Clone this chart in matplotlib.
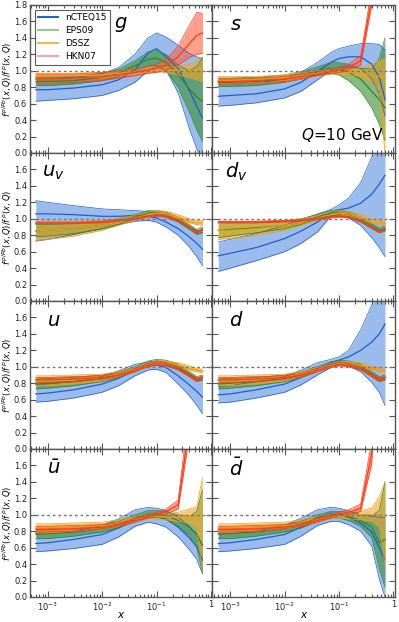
import numpy as np
import matplotlib
matplotlib.use("Agg")
import matplotlib.pyplot as plt
from matplotlib.ticker import FixedLocator, FixedFormatter, LogLocator, NullFormatter
from matplotlib.lines import Line2D

# ---------------- data ----------------
x_grid = [6e-4, 1e-3, 3e-3, 1e-2, 2e-2, 4e-2, 7e-2, 0.1, 0.15, 0.25, 0.4, 0.55, 0.7]

sets = ["nCTEQ15", "EPS09", "DSSZ", "HKN07"]
panel_labels = [r"$g$", r"$s$", r"$u_v$", r"$d_v$", r"$u$", r"$d$", r"$\bar{u}$", r"$\bar{d}$"]

# g
g_nCTEQ15    = [0.77,0.77,0.79,0.83,0.89,1.01,1.22,1.27,1.17,1.03,0.76,0.57,0.42]
g_nCTEQ15_lo = [0.63,0.64,0.66,0.70,0.76,0.86,1.00,1.05,1.01,0.73,0.30,0.05,-0.12]
g_nCTEQ15_hi = [0.91,0.91,0.92,0.96,1.04,1.20,1.40,1.46,1.41,1.31,1.21,1.17,1.15]
g_EPS09      = [0.87,0.87,0.88,0.92,0.97,1.06,1.14,1.15,1.10,0.95,0.78,0.68,0.63]
g_EPS09_lo   = [0.82,0.82,0.84,0.88,0.93,1.00,1.06,1.06,1.00,0.80,0.50,0.28,0.14]
g_EPS09_hi   = [0.92,0.92,0.93,0.97,1.02,1.12,1.23,1.25,1.20,1.07,1.00,1.05,1.16]
g_DSSZ       = [0.93,0.93,0.94,0.95,0.97,0.99,1.00,1.01,1.01,1.00,1.00,1.01,1.02]
g_DSSZ_lo    = [0.90,0.90,0.91,0.92,0.94,0.96,0.98,0.99,0.98,0.95,0.92,0.89,0.87]
g_DSSZ_hi    = [0.97,0.97,0.97,0.98,1.00,1.02,1.03,1.04,1.04,1.05,1.08,1.12,1.17]
g_HKN07      = [0.90,0.90,0.91,0.93,0.95,0.98,1.01,1.03,1.07,1.17,1.33,1.43,1.46]
g_HKN07_lo   = [0.85,0.85,0.86,0.88,0.91,0.94,0.97,0.98,1.01,1.07,1.16,1.20,1.21]
g_HKN07_hi   = [0.96,0.96,0.96,0.98,1.00,1.02,1.05,1.08,1.14,1.30,1.55,1.71,1.70]

# s
s_nCTEQ15    = [0.69,0.70,0.72,0.78,0.86,0.99,1.10,1.15,1.17,1.17,1.08,0.92,0.65]
s_nCTEQ15_lo = [0.57,0.58,0.61,0.67,0.75,0.89,1.00,1.04,1.05,1.03,0.90,0.72,0.45]
s_nCTEQ15_hi = [0.83,0.83,0.85,0.90,0.98,1.10,1.22,1.27,1.30,1.33,1.33,1.32,1.25]
s_EPS09      = [0.86,0.86,0.87,0.90,0.94,1.00,1.03,1.02,0.98,0.90,0.75,0.65,0.55]
s_EPS09_lo   = [0.81,0.81,0.82,0.86,0.90,0.95,0.97,0.95,0.88,0.75,0.55,0.35,0.15]
s_EPS09_hi   = [0.91,0.91,0.92,0.95,0.99,1.05,1.10,1.10,1.08,1.03,1.02,1.15,1.40]
s_DSSZ       = [0.88,0.88,0.89,0.91,0.94,0.97,0.99,0.99,0.98,0.97,0.95,0.93,0.90]
s_DSSZ_lo    = [0.84,0.84,0.85,0.87,0.90,0.94,0.96,0.96,0.95,0.93,0.86,0.75,0.00]
s_DSSZ_hi    = [0.93,0.93,0.93,0.95,0.97,1.00,1.02,1.02,1.02,1.04,1.08,1.12,1.15]
s_HKN07      = [0.87,0.87,0.88,0.90,0.93,0.96,0.99,1.01,1.04,1.12,1.90,4.00,6.00]
s_HKN07_lo   = [0.84,0.84,0.85,0.87,0.90,0.94,0.97,0.98,1.01,1.07,1.80,3.70,5.50]
s_HKN07_hi   = [0.90,0.90,0.91,0.93,0.96,0.99,1.02,1.04,1.08,1.18,2.00,4.30,6.50]

# u_v
uv_nCTEQ15    = [1.06,1.06,1.05,1.03,1.03,1.04,1.03,1.01,0.96,0.88,0.78,0.70,0.63]
uv_nCTEQ15_lo = [0.73,0.75,0.81,0.88,0.93,0.97,0.98,0.96,0.90,0.80,0.66,0.54,0.43]
uv_nCTEQ15_hi = [1.22,1.20,1.16,1.12,1.11,1.10,1.09,1.07,1.03,0.97,0.90,0.86,0.83]
uv_EPS09      = [0.85,0.86,0.88,0.92,0.96,1.02,1.07,1.08,1.05,0.99,0.90,0.84,0.87]
uv_EPS09_lo   = [0.78,0.79,0.82,0.88,0.93,1.00,1.04,1.05,1.02,0.96,0.87,0.81,0.83]
uv_EPS09_hi   = [0.93,0.93,0.94,0.97,1.00,1.05,1.10,1.10,1.08,1.02,0.93,0.87,0.90]
uv_DSSZ       = [0.85,0.86,0.88,0.92,0.96,1.01,1.05,1.07,1.06,1.02,0.97,0.95,0.95]
uv_DSSZ_lo    = [0.73,0.75,0.79,0.86,0.92,0.98,1.02,1.04,1.04,1.00,0.95,0.93,0.92]
uv_DSSZ_hi    = [0.97,0.97,0.97,0.98,1.00,1.04,1.08,1.10,1.09,1.05,1.00,0.98,0.98]
uv_HKN07      = [0.95,0.95,0.95,0.96,0.98,1.00,1.03,1.04,1.03,0.98,0.90,0.83,0.87]
uv_HKN07_lo   = [0.94,0.94,0.94,0.95,0.97,0.99,1.02,1.03,1.02,0.97,0.89,0.82,0.86]
uv_HKN07_hi   = [0.96,0.96,0.96,0.97,0.99,1.01,1.04,1.05,1.04,0.99,0.91,0.84,0.88]

# d_v
dv_nCTEQ15    = [0.55,0.58,0.65,0.76,0.85,0.96,1.07,1.11,1.13,1.19,1.30,1.42,1.53]
dv_nCTEQ15_lo = [0.36,0.40,0.49,0.60,0.70,0.84,1.03,1.05,1.01,0.92,0.77,0.65,0.54]
dv_nCTEQ15_hi = [0.72,0.75,0.82,0.92,0.99,1.06,1.11,1.17,1.25,1.44,1.75,2.00,2.20]
dv_EPS09      = [0.86,0.87,0.89,0.92,0.96,1.02,1.07,1.08,1.05,0.99,0.91,0.86,0.88]
dv_EPS09_lo   = [0.77,0.79,0.83,0.88,0.93,1.00,1.04,1.05,1.02,0.96,0.88,0.83,0.85]
dv_EPS09_hi   = [0.95,0.95,0.95,0.97,1.00,1.05,1.10,1.11,1.08,1.02,0.94,0.89,0.91]
dv_DSSZ       = [0.86,0.86,0.88,0.92,0.96,1.01,1.05,1.07,1.06,1.02,0.97,0.95,0.95]
dv_DSSZ_lo    = [0.75,0.76,0.80,0.86,0.92,0.98,1.02,1.04,1.04,1.00,0.95,0.93,0.92]
dv_DSSZ_hi    = [0.97,0.97,0.97,0.98,1.00,1.04,1.08,1.10,1.09,1.05,1.00,0.98,0.98]
dv_HKN07      = [0.96,0.96,0.96,0.97,0.98,1.00,1.02,1.03,1.02,0.97,0.90,0.84,0.87]
dv_HKN07_lo   = [0.95,0.95,0.95,0.96,0.97,0.99,1.01,1.02,1.01,0.96,0.89,0.83,0.86]
dv_HKN07_hi   = [0.97,0.97,0.97,0.98,0.99,1.01,1.03,1.04,1.03,0.98,0.91,0.85,0.88]

# u
u_nCTEQ15    = [0.67,0.68,0.72,0.79,0.86,0.96,1.01,1.02,0.99,0.89,0.78,0.70,0.63]
u_nCTEQ15_lo = [0.57,0.58,0.62,0.69,0.77,0.89,0.96,0.97,0.93,0.79,0.65,0.53,0.43]
u_nCTEQ15_hi = [0.78,0.79,0.82,0.88,0.95,1.03,1.06,1.07,1.05,0.99,0.91,0.86,0.83]
u_EPS09      = [0.79,0.80,0.82,0.86,0.90,0.97,1.04,1.06,1.05,1.00,0.91,0.85,0.87]
u_EPS09_lo   = [0.73,0.74,0.77,0.82,0.87,0.94,1.01,1.03,1.02,0.97,0.88,0.82,0.84]
u_EPS09_hi   = [0.85,0.86,0.87,0.90,0.94,1.00,1.07,1.09,1.08,1.03,0.94,0.88,0.90]
u_DSSZ       = [0.83,0.83,0.84,0.87,0.91,0.97,1.03,1.05,1.05,1.02,0.98,0.96,0.95]
u_DSSZ_lo    = [0.77,0.77,0.79,0.83,0.88,0.95,1.01,1.03,1.03,1.00,0.96,0.94,0.93]
u_DSSZ_hi    = [0.89,0.89,0.90,0.91,0.94,0.99,1.05,1.07,1.07,1.05,1.01,0.98,0.97]
u_HKN07      = [0.84,0.84,0.85,0.87,0.90,0.96,1.02,1.04,1.03,0.98,0.90,0.84,0.87]
u_HKN07_lo   = [0.81,0.81,0.82,0.85,0.88,0.94,1.00,1.02,1.01,0.96,0.88,0.82,0.85]
u_HKN07_hi   = [0.87,0.87,0.88,0.89,0.92,0.98,1.04,1.06,1.05,1.00,0.92,0.86,0.89]

# d
d_nCTEQ15    = [0.66,0.67,0.72,0.79,0.87,0.98,1.05,1.08,1.12,1.20,1.30,1.40,1.52]
d_nCTEQ15_lo = [0.56,0.57,0.62,0.69,0.78,0.90,0.99,1.02,1.01,0.94,0.81,0.69,0.53]
d_nCTEQ15_hi = [0.76,0.77,0.82,0.88,0.96,1.05,1.09,1.12,1.20,1.45,1.75,2.00,2.30]
d_EPS09      = [0.79,0.80,0.82,0.86,0.90,0.97,1.03,1.05,1.04,1.00,0.91,0.85,0.87]
d_EPS09_lo   = [0.73,0.74,0.77,0.82,0.87,0.94,1.00,1.02,1.01,0.97,0.88,0.82,0.84]
d_EPS09_hi   = [0.85,0.86,0.87,0.90,0.94,1.00,1.06,1.08,1.07,1.03,0.94,0.88,0.90]
d_DSSZ       = [0.83,0.83,0.84,0.87,0.91,0.97,1.02,1.04,1.04,1.02,0.98,0.96,0.95]
d_DSSZ_lo    = [0.77,0.77,0.79,0.83,0.88,0.95,1.00,1.02,1.02,1.00,0.96,0.94,0.93]
d_DSSZ_hi    = [0.89,0.89,0.90,0.91,0.94,0.99,1.04,1.06,1.06,1.05,1.01,0.98,0.97]
d_HKN07      = [0.84,0.84,0.85,0.87,0.90,0.96,1.01,1.03,1.02,0.98,0.90,0.84,0.87]
d_HKN07_lo   = [0.81,0.81,0.82,0.85,0.88,0.94,0.99,1.01,1.00,0.96,0.88,0.82,0.85]
d_HKN07_hi   = [0.87,0.87,0.88,0.89,0.92,0.98,1.03,1.05,1.04,1.00,0.92,0.86,0.89]

# ubar
ub_nCTEQ15    = [0.65,0.66,0.70,0.76,0.84,0.95,1.00,0.99,0.95,0.85,0.72,0.61,0.45]
ub_nCTEQ15_lo = [0.55,0.56,0.59,0.64,0.73,0.86,0.91,0.89,0.85,0.73,0.58,0.46,0.28]
ub_nCTEQ15_hi = [0.76,0.77,0.80,0.87,0.95,1.06,1.09,1.08,1.05,0.97,0.86,0.77,0.62]
ub_EPS09      = [0.77,0.77,0.79,0.83,0.88,0.96,1.01,1.01,0.99,0.93,0.85,0.76,0.63]
ub_EPS09_lo   = [0.71,0.71,0.74,0.79,0.84,0.92,0.97,0.97,0.94,0.86,0.75,0.60,0.30]
ub_EPS09_hi   = [0.83,0.83,0.85,0.88,0.92,1.00,1.05,1.05,1.04,1.00,0.98,1.04,1.30]
ub_DSSZ       = [0.84,0.84,0.85,0.87,0.90,0.95,0.98,0.98,0.97,0.97,0.98,0.98,0.98]
ub_DSSZ_lo    = [0.78,0.78,0.80,0.83,0.87,0.92,0.95,0.95,0.94,0.92,0.90,0.84,0.30]
ub_DSSZ_hi    = [0.89,0.89,0.90,0.91,0.94,0.98,1.01,1.01,1.01,1.03,1.07,1.10,1.45]
ub_HKN07      = [0.82,0.82,0.83,0.85,0.88,0.93,0.98,1.01,1.04,1.12,2.10,4.00,6.00]
ub_HKN07_lo   = [0.79,0.79,0.80,0.83,0.86,0.91,0.96,0.99,1.01,1.07,1.95,3.60,5.50]
ub_HKN07_hi   = [0.86,0.86,0.87,0.88,0.90,0.95,1.00,1.03,1.07,1.18,2.30,4.40,6.50]

# dbar
db_nCTEQ15    = [0.65,0.66,0.70,0.76,0.85,0.97,1.02,1.01,0.97,0.90,0.79,0.60,0.45]
db_nCTEQ15_lo = [0.55,0.56,0.59,0.64,0.74,0.87,0.92,0.92,0.88,0.80,0.62,0.22,0.00]
db_nCTEQ15_hi = [0.76,0.77,0.80,0.87,0.96,1.06,1.09,1.08,1.05,1.00,0.98,0.97,0.97]
db_EPS09      = [0.77,0.77,0.79,0.83,0.88,0.96,1.00,1.00,0.98,0.93,0.85,0.66,0.70]
db_EPS09_lo   = [0.71,0.71,0.74,0.79,0.84,0.92,0.96,0.96,0.93,0.86,0.72,0.35,0.12]
db_EPS09_hi   = [0.83,0.83,0.85,0.88,0.92,1.00,1.04,1.04,1.03,1.00,0.99,1.05,1.40]
db_DSSZ       = [0.84,0.84,0.85,0.87,0.90,0.95,0.98,0.99,0.99,1.00,1.00,1.00,1.00]
db_DSSZ_lo    = [0.79,0.79,0.80,0.83,0.87,0.92,0.95,0.96,0.95,0.94,0.92,0.85,0.40]
db_DSSZ_hi    = [0.89,0.89,0.90,0.91,0.94,0.98,1.01,1.02,1.03,1.05,1.08,1.22,1.40]
db_HKN07      = [0.82,0.82,0.83,0.85,0.88,0.93,0.98,1.01,1.03,1.08,1.75,4.00,6.00]
db_HKN07_lo   = [0.79,0.79,0.80,0.83,0.86,0.91,0.96,0.99,1.00,1.04,1.62,3.60,5.50]
db_HKN07_hi   = [0.86,0.86,0.87,0.88,0.90,0.95,1.00,1.03,1.06,1.13,1.90,4.40,6.50]

x_ticks = [1e-3, 1e-2, 1e-1, 1.0]
x_ticklabels = [r"$10^{-3}$", r"$10^{-2}$", r"$10^{-1}$", "1"]
y_ticks = [0.0, 0.2, 0.4, 0.6, 0.8, 1.0, 1.2, 1.4, 1.6, 1.8]
y_ticklabels = ["0.0", "0.2", "0.4", "0.6", "0.8", "1.0", "1.2", "1.4", "1.6", "1.8"]

# ---------------- assemble ----------------
G = globals()
prefixes = ["g", "s", "uv", "dv", "u", "d", "ub", "db"]
line_colors = {"nCTEQ15": "#1c5fcf", "EPS09": "#2f8a2a", "DSSZ": "#f39c12", "HKN07": "#ff3a1a"}
fill_colors = {"nCTEQ15": "#5e92e2", "EPS09": "#3d8f33", "DSSZ": "#f5a623", "HKN07": "#ff6040"}
fill_alpha = {"nCTEQ15": 0.62, "EPS09": 0.62, "DSSZ": 0.6, "HKN07": 0.6}
legend_colors = {"nCTEQ15": "#2462d4", "EPS09": "#9cc98c", "DSSZ": "#f8b54a", "HKN07": "#f9a898"}

W, H = 399, 622
fig = plt.figure(figsize=(W / 100, H / 100), dpi=100)
gs = fig.add_gridspec(4, 2, left=30 / W, right=395 / W, top=1 - 5 / H, bottom=1 - 597 / H,
                      wspace=0, hspace=0)

x = np.array(x_grid)
frame_col = "#555555"
for i, p in enumerate(prefixes):
    r, c = divmod(i, 2)
    ax = fig.add_subplot(gs[r, c])
    for sname in sets:
        cen = np.array(G[f"{p}_{sname}"])
        lo = np.array(G[f"{p}_{sname}_lo"])
        hi = np.array(G[f"{p}_{sname}_hi"])
        ax.fill_between(x, lo, hi, color=fill_colors[sname], alpha=fill_alpha[sname], lw=0)
        ax.plot(x, lo, color=line_colors[sname], lw=0.5)
        ax.plot(x, hi, color=line_colors[sname], lw=0.5)
        ax.plot(x, cen, color=line_colors[sname], lw=0.9)
    ax.axhline(1.0, color="#777777", lw=1.0, ls=(0, (2, 2)))
    ax.set_xscale("log")
    ax.set_xlim(4.7e-4, 1.07)
    ax.set_ylim(0, 1.8)
    ax.xaxis.set_major_locator(FixedLocator(x_ticks))
    ax.xaxis.set_minor_locator(LogLocator(base=10, subs=np.arange(2, 10), numticks=20))
    ax.xaxis.set_minor_formatter(NullFormatter())
    ax.yaxis.set_major_locator(FixedLocator(y_ticks))
    ax.tick_params(which="both", direction="in", top=True, right=True, colors=frame_col,
                   labelcolor="#222222", labelsize=6.0, width=0.8)
    ax.tick_params(which="major", length=4)
    ax.tick_params(which="minor", length=2)
    ax.tick_params(axis="y", pad=2.0)
    ax.tick_params(axis="x", pad=2.5)
    for sp in ax.spines.values():
        sp.set_color(frame_col)
        sp.set_linewidth(1.0)
    if r == 3:
        ax.xaxis.set_major_formatter(FixedFormatter(x_ticklabels))
        ax.set_xlabel(r"$x$", fontsize=7.5, va="center")
        ax.xaxis.set_label_coords(0.5, -0.122)
    else:
        ax.xaxis.set_major_formatter(NullFormatter())
    if c == 0:
        labs = list(y_ticklabels)
        if r != 0:
            labs[-1] = ""
        ax.yaxis.set_major_formatter(FixedFormatter(labs))
        ax.set_ylabel(r"$f^{\,p/Pb}(x,Q)/f^{\,p}(x,Q)$", fontsize=6.0, va="center")
        ax.yaxis.set_label_coords(-0.122, 0.5)
    else:
        ax.yaxis.set_major_formatter(NullFormatter())
    lx = 0.50 if i == 0 else 0.13
    ax.text(lx, 0.87, panel_labels[i], transform=ax.transAxes, fontsize=14,
            ha="center", va="center", color="black")
    if i == 0:
        handles = [Line2D([], [], color=legend_colors[s], lw=1.5) for s in sets]
        leg = ax.legend(handles, sets, loc="upper left", fontsize=6.5, frameon=True,
                        fancybox=False, edgecolor="#333333", handlelength=2.2,
                        borderpad=0.4, labelspacing=0.45, handletextpad=0.8,
                        bbox_to_anchor=(0.0, 1.0))
        leg.get_frame().set_linewidth(0.8)
    if i == 1:
        ax.text(0.71, 0.12, r"$Q$=10 GeV", transform=ax.transAxes, fontsize=11,
                ha="center", va="center")

fig.savefig("out.png", dpi=100)
